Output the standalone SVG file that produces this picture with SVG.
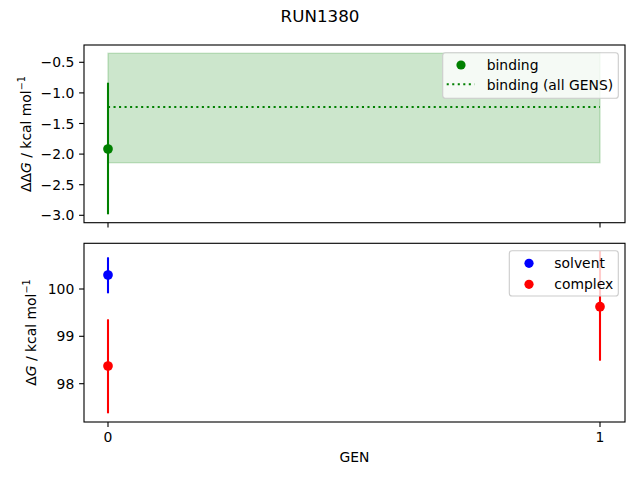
<svg xmlns="http://www.w3.org/2000/svg" width="640" height="480" viewBox="0 0 640 480">
<style>
text{font-family:"DejaVu Sans","Liberation Sans",sans-serif;fill:#000}
.tl{font-size:13.9px}
.tr{text-anchor:end}
.tm{text-anchor:middle}
.sp{fill:none;stroke:#000;stroke-width:1.11}
.tk{stroke:#000;stroke-width:1.11}
.eb{stroke-width:2.08;fill:none}
.leg{fill:#fff;fill-opacity:0.8;stroke:#ccc;stroke-width:1.11}
</style>
<rect width="640" height="480" fill="#fff"/>
<text x="320" y="22" class="tm" style="font-size:16.7px">RUN1380</text>

<g id="top-axes">
<rect x="108" y="53.3" width="492" height="109.4" fill="green" fill-opacity="0.2" stroke="green" stroke-opacity="0.2" stroke-width="1.39"/>
<line x1="108" y1="107" x2="600" y2="107" stroke="green" stroke-width="2.08" stroke-dasharray="2.08 3.44"/>
<line class="eb" x1="108" y1="82.7" x2="108" y2="214.3" stroke="green"/>
<circle cx="108" cy="149" r="4.85" fill="green"/>
<rect class="sp" x="84" y="45" width="541" height="177.7"/>
<g class="tk">
<line x1="84" y1="62.3" x2="79.1" y2="62.3"/>
<line x1="84" y1="92.9" x2="79.1" y2="92.9"/>
<line x1="84" y1="123.5" x2="79.1" y2="123.5"/>
<line x1="84" y1="154.1" x2="79.1" y2="154.1"/>
<line x1="84" y1="184.7" x2="79.1" y2="184.7"/>
<line x1="84" y1="215.3" x2="79.1" y2="215.3"/>
<line x1="108" y1="222.7" x2="108" y2="227.6"/>
<line x1="600" y1="222.7" x2="600" y2="227.6"/>
</g>
<g class="tl tr">
<text x="74.3" y="67.3">−0.5</text>
<text x="74.3" y="97.9">−1.0</text>
<text x="74.3" y="128.5">−1.5</text>
<text x="74.3" y="159.1">−2.0</text>
<text x="74.3" y="189.7">−2.5</text>
<text x="74.3" y="220.3">−3.0</text>
</g>
<text class="tl tm" transform="translate(31,134) rotate(-90)">Δ<tspan>Δ</tspan><tspan font-style="italic">G</tspan> / kcal mol<tspan dy="-6" font-size="9.7px">−1</tspan></text>
<g id="legend-top">
<rect class="leg" x="442.7" y="52.7" width="175.6" height="45.6" rx="2.8"/>
<circle cx="461" cy="65" r="4.6" fill="green"/>
<line x1="446.7" y1="84.3" x2="474.5" y2="84.3" stroke="green" stroke-width="2.08" stroke-dasharray="2.08 3.44"/>
<text class="tl" x="486.7" y="69.5">binding</text>
<text class="tl" x="486.7" y="89.5">binding (all GENS)</text>
</g>
</g>

<g id="bottom-axes">
<line class="eb" x1="108" y1="257.3" x2="108" y2="293.3" stroke="blue"/>
<circle cx="108" cy="275" r="4.85" fill="blue"/>
<line class="eb" x1="108" y1="319.3" x2="108" y2="413.3" stroke="red"/>
<circle cx="108" cy="366" r="4.85" fill="red"/>
<line class="eb" x1="600" y1="251" x2="600" y2="360.7" stroke="red"/>
<circle cx="600" cy="306.7" r="4.85" fill="red"/>
<rect class="sp" x="84" y="243.3" width="541" height="178.7"/>
<g class="tk">
<line x1="84" y1="289" x2="79.1" y2="289"/>
<line x1="84" y1="336.3" x2="79.1" y2="336.3"/>
<line x1="84" y1="383.7" x2="79.1" y2="383.7"/>
<line x1="108" y1="422" x2="108" y2="426.9"/>
<line x1="600" y1="422" x2="600" y2="426.9"/>
</g>
<g class="tl tr">
<text x="74.3" y="294">100</text>
<text x="74.3" y="341.3">99</text>
<text x="74.3" y="388.7">98</text>
</g>
<text class="tl tm" x="108" y="442">0</text>
<text class="tl tm" x="600" y="442">1</text>
<text class="tl tm" x="354.5" y="462">GEN</text>
<text class="tl tm" transform="translate(36,332.5) rotate(-90)">Δ<tspan font-style="italic">G</tspan> / kcal mol<tspan dy="-6" font-size="9.7px">−1</tspan></text>
<g id="legend-bottom">
<rect class="leg" x="509.3" y="250.7" width="109" height="45.3" rx="2.8"/>
<circle cx="529" cy="263.3" r="4.6" fill="blue"/>
<circle cx="529" cy="284.3" r="4.6" fill="red"/>
<text class="tl" x="554.3" y="268">solvent</text>
<text class="tl" x="554.3" y="289">complex</text>
</g>
</g>
</svg>
